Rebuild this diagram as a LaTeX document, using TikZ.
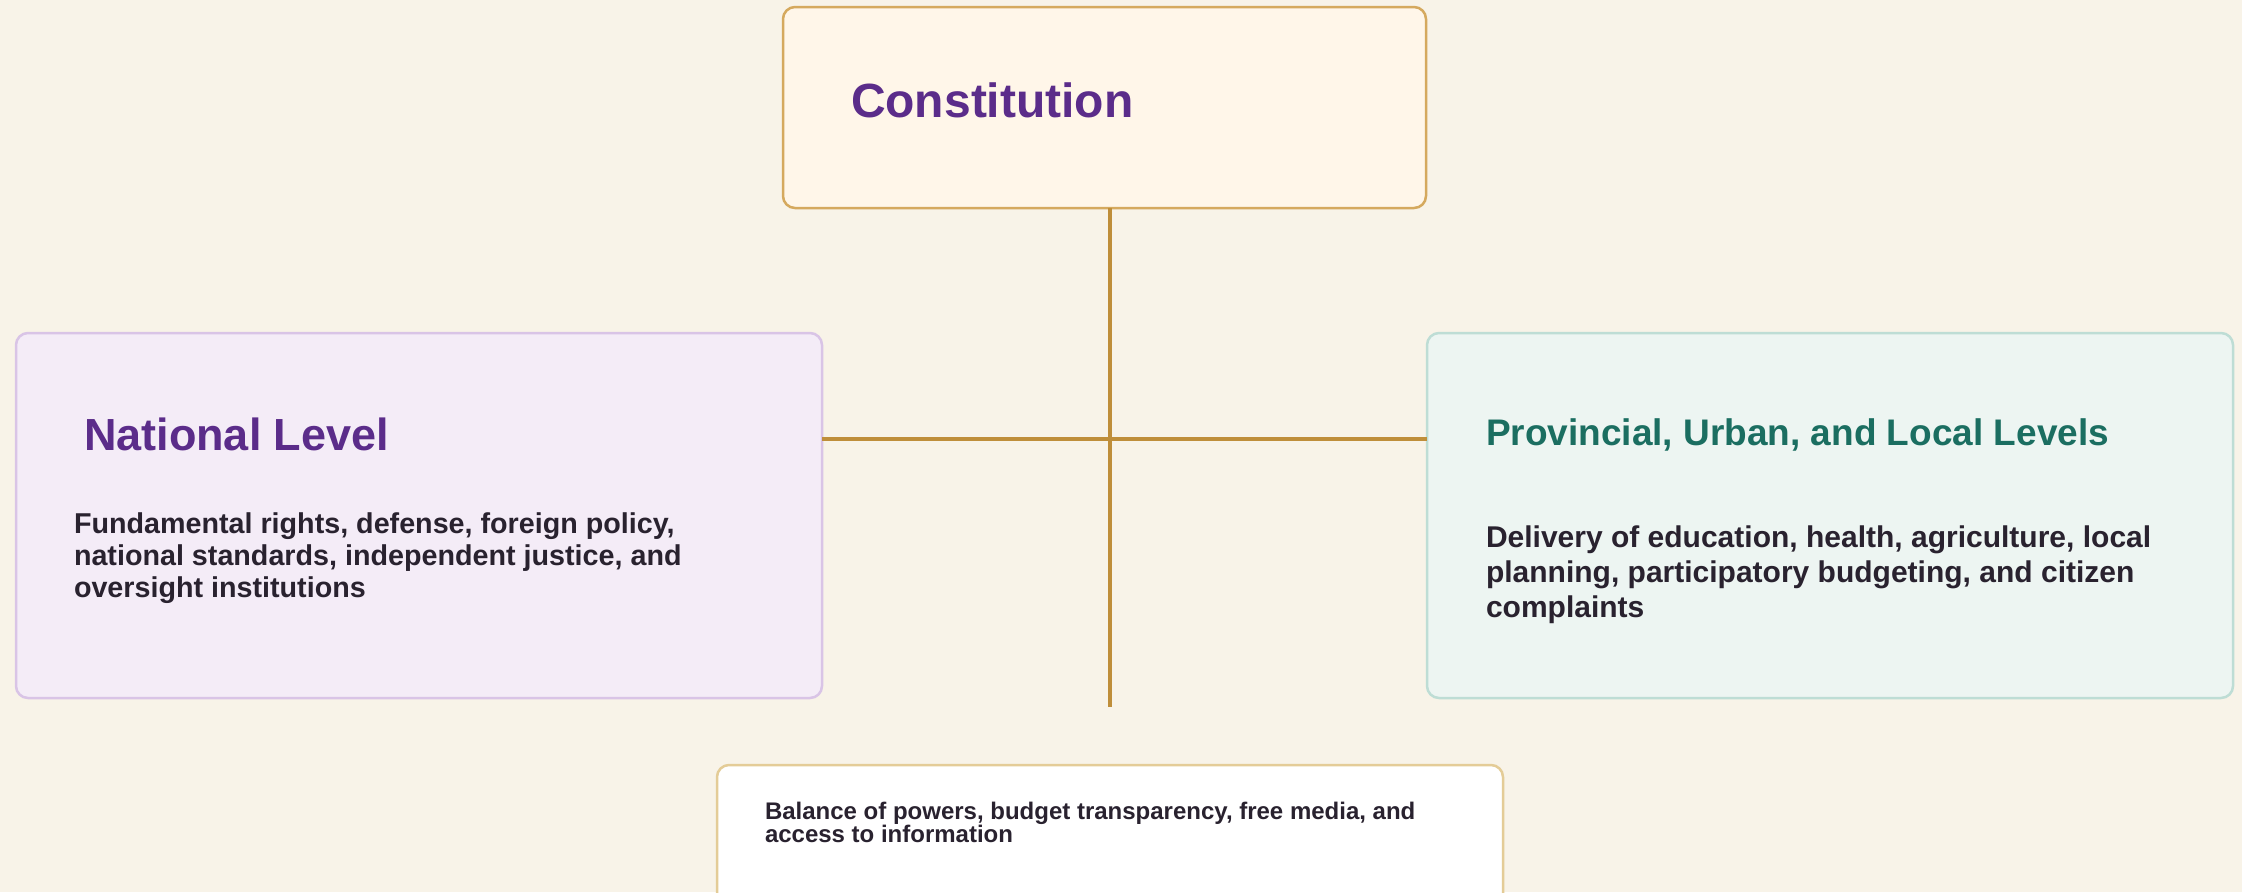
\documentclass[tikz,border=0pt]{standalone}
\usepackage{fontspec}
\setmainfont{Liberation Sans}
\definecolor{bgc}{HTML}{F8F3E8}
\definecolor{constf}{HTML}{FFF6E9}
\definecolor{constb}{HTML}{D5A95E}
\definecolor{natf}{HTML}{F4ECF7}
\definecolor{natb}{HTML}{D9C4E6}
\definecolor{provf}{HTML}{EDF5F2}
\definecolor{provb}{HTML}{BEDDD5}
\definecolor{balb}{HTML}{E4CC97}
\definecolor{linkc}{HTML}{BF8E3A}
\definecolor{purp}{HTML}{5B2C8A}
\definecolor{teal}{HTML}{1B6E61}
\definecolor{bodyc}{HTML}{29222F}
\begin{document}
\begin{tikzpicture}[x=1pt,y=-1pt,
  box/.style={draw, rounded corners=12pt, line width=2.5pt, anchor=north west, inner sep=0pt, outer sep=0pt},
  link/.style={draw=linkc, line width=4pt},
  txt/.style={anchor=base west, inner sep=0pt, outer sep=0pt}]
\fill[bgc] (0,0) rectangle (2242,892);
\useasboundingbox (0,0) rectangle (2242,892);
\node[box, draw=constb, fill=constf, minimum width=643pt, minimum height=201pt] (const) at (783,7) {};
\node[box, draw=natb, fill=natf, minimum width=806pt, minimum height=365pt] (nat) at (16,333) {};
\node[box, draw=provb, fill=provf, minimum width=806pt, minimum height=365pt] (prov) at (1427,333) {};
\node[box, draw=balb, fill=white, minimum width=786pt, minimum height=150pt] (bal) at (717,765) {};
\coordinate (vend) at (1110,707);
\coordinate (hy) at (1110,439);
\draw[link] (const.south -| vend) -- (vend);
\draw[link] (nat.east |- hy) -- (prov.west |- hy);
\node[txt, text=purp, font=\fontsize{48}{56}\selectfont\bfseries] (constT) at (851,117) {Constitution};
\node[txt, text=purp, font=\fontsize{45}{52}\selectfont\bfseries] (natT) at (84,450) {National Level};
\node[txt, text=bodyc, font=\fontsize{28.7}{32}\selectfont\bfseries] (natB) at (74,533)
  {\vtop{\hbox{Fundamental rights, defense, foreign policy,}\hbox{national standards, independent justice, and}\hbox{oversight institutions}}};
\node[txt, text=teal, font=\fontsize{37}{44}\selectfont\bfseries] (provT) at (1486,445) {Provincial, Urban, and Local Levels};
\node[txt, text=bodyc, font=\fontsize{30}{35}\selectfont\bfseries] (provB) at (1486,547)
  {\vtop{\hbox{Delivery of education, health, agriculture, local}\hbox{planning, participatory budgeting, and citizen}\hbox{complaints}}};
\node[txt, text=bodyc, font=\fontsize{24}{23}\selectfont\bfseries] (balB) at (765,819)
  {\vtop{\hbox{Balance of powers, budget transparency, free media, and}\hbox{access to information}}};
\end{tikzpicture}
\end{document}
